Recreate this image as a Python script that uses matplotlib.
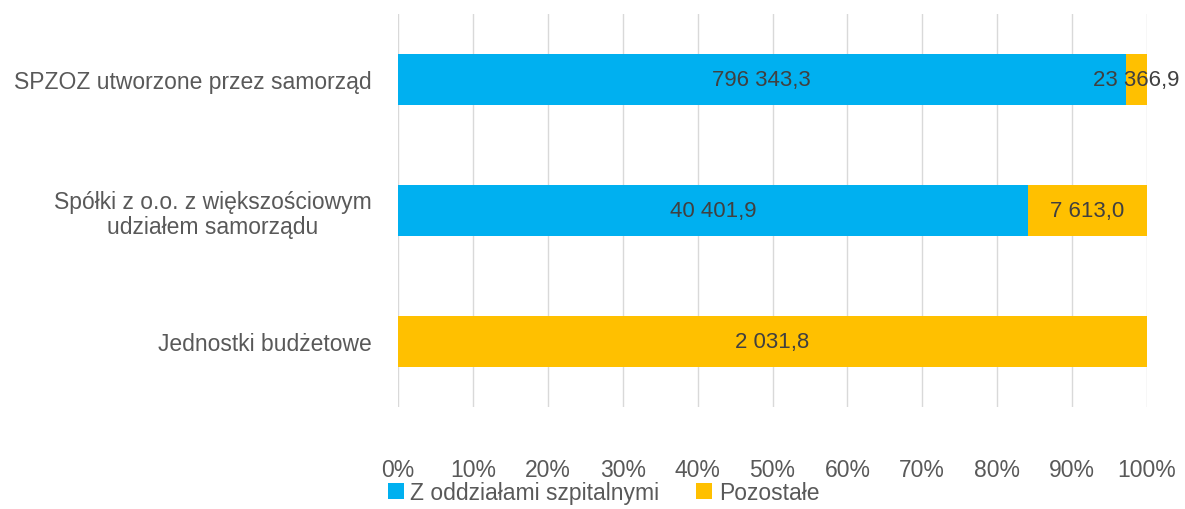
import matplotlib.pyplot as plt
import numpy as np
from matplotlib.ticker import PercentFormatter

categories = ['SPZOZ utworzone przez samorząd',
              'Spółki z o.o. z większościowym\nudziałem samorządu',
              'Jednostki budżetowe']
szpitalne = [796343.3, 40401.9, 0.0]
pozostale = [23366.9, 7613.0, 2031.8]
series_names = ['Z oddziałami szpitalnymi', 'Pozostałe']
colors = ['#00B0F0', '#FFC000']

plt.rcParams['font.family'] = ['Liberation Sans', 'DejaVu Sans']
txt = '#595959'
fs = 16.5

def fmt(v):
    s = f'{v:,.1f}'.replace(',', ' ').replace('.', ',')
    return s

szp = np.array(szpitalne)
poz = np.array(pozostale)
tot = szp + poz
a = szp / tot * 100
b = poz / tot * 100

fig = plt.figure(figsize=(11.85, 5.10), dpi=100)
ax = fig.add_axes([0.3359, 0.2, 0.632, 0.7706])
y = np.arange(len(categories))
h = 0.39
ax.barh(y, a, height=h, color=colors[0], label=series_names[0], zorder=2)
ax.barh(y, b, left=a, height=h, color=colors[1], label=series_names[1], zorder=2)

for i in range(len(categories)):
    if szp[i] > 0:
        ax.text(a[i] / 2, y[i], fmt(szp[i]), ha='center', va='center', color='#404040', fontsize=16, zorder=3)
    if poz[i] > 0:
        ax.text(a[i] + b[i] / 2, y[i], fmt(poz[i]), ha='center', va='center', color='#404040', fontsize=16, zorder=3)

ax.set_xlim(0, 100)
ax.set_ylim(2.5, -0.5)
ax.set_xticks(np.arange(0, 101, 10))
ax.xaxis.set_major_formatter(PercentFormatter(decimals=0))
ax.set_yticks(y)
ax.set_yticklabels(categories, ha='right', multialignment='center', linespacing=1.12)
ax.grid(axis='x', color='#D9D9D9', linewidth=1, zorder=0)
for s in ax.spines.values():
    s.set_visible(False)
ax.tick_params(length=0, labelsize=fs, colors=txt)
ax.tick_params(axis='y', pad=19)
ax.tick_params(axis='x', pad=37)

fig.legend(loc='lower left', bbox_to_anchor=(0.31, -0.03), ncol=2, frameon=False,
           fontsize=fs, handlelength=0.68, handleheight=0.68, handletextpad=0.3,
           columnspacing=1.6, labelcolor=txt)

fig.savefig('out.png', dpi=100)
